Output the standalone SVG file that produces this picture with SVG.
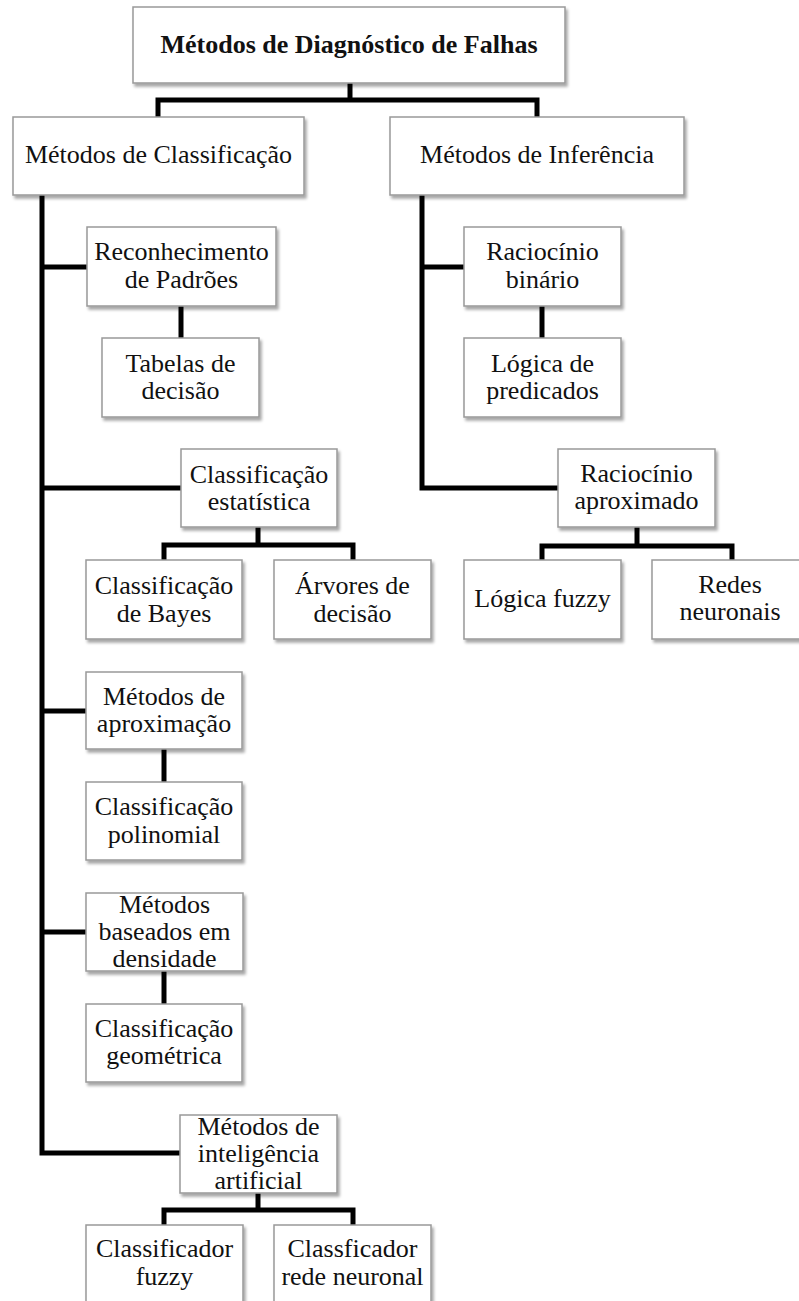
<svg xmlns="http://www.w3.org/2000/svg" width="799" height="1301" viewBox="0 0 799 1301">
<defs>
<filter id="sh" x="-10%" y="-10%" width="130%" height="130%">
<feDropShadow dx="2" dy="3" stdDeviation="1.5" flood-color="#000" flood-opacity="0.35"/>
</filter>
</defs>
<style>
.box{fill:#fff;stroke:#999;stroke-width:1.5;filter:url(#sh)}
.t{font-family:"Liberation Serif","Times New Roman",serif;font-size:26px;fill:#111;text-anchor:middle}
.b{font-weight:bold}
.c{fill:none;stroke:#000;stroke-width:5;stroke-linejoin:miter}
</style>
<rect width="799" height="1301" fill="#fff"/>
<g id="connectors">
<path class="c" d="M350,83 V100"/>
<path class="c" d="M158,117 V100 H537 V117"/>
<path class="c" d="M42,195 V1153 H180"/>
<path class="c" d="M42,267 H87"/>
<path class="c" d="M42,488 H181"/>
<path class="c" d="M42,711 H86"/>
<path class="c" d="M42,932 H86"/>
<path class="c" d="M422,195 V488 H558"/>
<path class="c" d="M422,267 H464"/>
<path class="c" d="M181,306 V338"/>
<path class="c" d="M542,306 V338"/>
<path class="c" d="M258,527 V545"/>
<path class="c" d="M164,560 V545 H353 V560"/>
<path class="c" d="M637,527 V546"/>
<path class="c" d="M542,560 V546 H732 V560"/>
<path class="c" d="M164,749 V782"/>
<path class="c" d="M164,971 V1004"/>
<path class="c" d="M258,1193 V1210"/>
<path class="c" d="M164,1225 V1210 H353 V1225"/>
</g>
<g id="root"><rect class="box" x="133" y="7" width="432" height="76"/><text class="t b" x="349" y="53">Métodos de Diagnóstico de Falhas</text></g>
<g id="classificacao"><rect class="box" x="13" y="117" width="291" height="78"/><text class="t" x="158.5" y="163">Métodos de Classificação</text></g>
<g id="inferencia"><rect class="box" x="390" y="117" width="294" height="78"/><text class="t" x="537" y="163">Métodos de Inferência</text></g>
<g id="reconhecimento"><rect class="box" x="87" y="227" width="189" height="79"/><text class="t" x="181.5" y="260">Reconhecimento</text><text class="t" x="181.5" y="288">de Padrões</text></g>
<g id="tabelas"><rect class="box" x="102" y="338" width="157" height="79"/><text class="t" x="180.5" y="372">Tabelas de</text><text class="t" x="180.5" y="399">decisão</text></g>
<g id="binario"><rect class="box" x="464" y="227" width="157" height="79"/><text class="t" x="542.5" y="260">Raciocínio</text><text class="t" x="542.5" y="288">binário</text></g>
<g id="predicados"><rect class="box" x="464" y="338" width="157" height="79"/><text class="t" x="542.5" y="372">Lógica de</text><text class="t" x="542.5" y="399">predicados</text></g>
<g id="estatistica"><rect class="box" x="181" y="449" width="156" height="78"/><text class="t" x="259" y="483">Classificação</text><text class="t" x="259" y="510">estatística</text></g>
<g id="bayes"><rect class="box" x="86" y="560" width="156" height="79"/><text class="t" x="164" y="594">Classificação</text><text class="t" x="164" y="622">de Bayes</text></g>
<g id="arvores"><rect class="box" x="274" y="560" width="157" height="79"/><text class="t" x="352.5" y="594">Árvores de</text><text class="t" x="352.5" y="622">decisão</text></g>
<g id="aproximado"><rect class="box" x="558" y="449" width="157" height="78"/><text class="t" x="636.5" y="482">Raciocínio</text><text class="t" x="636.5" y="509">aproximado</text></g>
<g id="logicafuzzy"><rect class="box" x="464" y="560" width="157" height="79"/><text class="t" x="542.5" y="607">Lógica fuzzy</text></g>
<g id="redes"><rect class="box" x="652" y="560" width="157" height="79"/><text class="t" x="730" y="593">Redes</text><text class="t" x="730" y="620">neuronais</text></g>
<g id="aproximacao"><rect class="box" x="86" y="672" width="156" height="77"/><text class="t" x="164" y="705">Métodos de</text><text class="t" x="164" y="732">aproximação</text></g>
<g id="polinomial"><rect class="box" x="86" y="782" width="156" height="78"/><text class="t" x="164" y="815">Classificação</text><text class="t" x="164" y="843">polinomial</text></g>
<g id="densidade"><rect class="box" x="86" y="893" width="157" height="78"/><text class="t" x="164.5" y="913">Métodos</text><text class="t" x="164.5" y="940">baseados em</text><text class="t" x="164.5" y="967">densidade</text></g>
<g id="geometrica"><rect class="box" x="86" y="1004" width="156" height="78"/><text class="t" x="164" y="1037">Classificação</text><text class="t" x="164" y="1064">geométrica</text></g>
<g id="ia"><rect class="box" x="180" y="1115" width="157" height="78"/><text class="t" x="258.5" y="1135">Métodos de</text><text class="t" x="258.5" y="1162">inteligência</text><text class="t" x="258.5" y="1189">artificial</text></g>
<g id="cfuzzy"><rect class="box" x="86" y="1225" width="157" height="95"/><text class="t" x="164.5" y="1257">Classificador</text><text class="t" x="164.5" y="1285">fuzzy</text></g>
<g id="cneuronal"><rect class="box" x="274" y="1225" width="157" height="95"/><text class="t" x="352.5" y="1257">Classficador</text><text class="t" x="352.5" y="1285">rede neuronal</text></g>
</svg>
